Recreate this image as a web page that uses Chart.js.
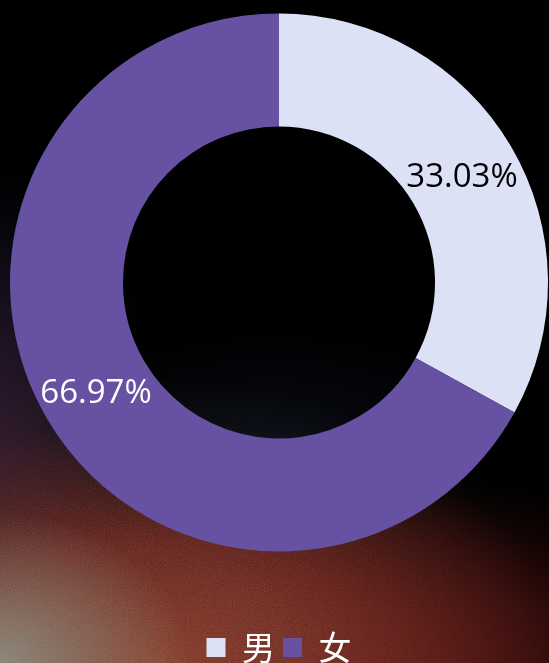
<!DOCTYPE html>
<html>
<head>
<meta charset="utf-8">
<script src="https://cdn.jsdelivr.net/npm/chart.js@4/dist/chart.umd.min.js"></script>
<style>
  html, body { margin: 0; padding: 0; overflow: hidden; background: #000; }
  #bg {
    position: absolute; left: 0; top: 0; width: 549px; height: 663px;
    background:
      radial-gradient(ellipse 190px 150px at 0% 100%, rgba(140,148,130,0.85), rgba(140,148,130,0) 100%),
      radial-gradient(ellipse 430px 240px at 28% 100%, rgba(135,52,30,0.95) 0%, rgba(112,30,20,0.8) 50%, rgba(80,18,18,0) 100%),
      radial-gradient(ellipse 620px 190px at 55% 100%, rgba(90,14,14,0.8), rgba(90,14,14,0) 100%),
      radial-gradient(ellipse 140px 240px at 0% 68%, rgba(70,26,50,0.55), rgba(70,26,50,0) 100%),
      radial-gradient(ellipse 150px 200px at 0% 55%, rgba(26,34,64,0.5), rgba(26,34,64,0) 100%),
      radial-gradient(ellipse 240px 110px at 50% 66%, rgba(18,24,40,0.45), rgba(18,24,40,0) 100%),
      #000;
  }
  #noise {
    position: absolute; left: 0; top: 0; width: 549px; height: 663px; opacity: 0.25;
    background-image: url("data:image/svg+xml;utf8,<svg xmlns='http://www.w3.org/2000/svg' width='549' height='663'><filter id='n'><feTurbulence type='fractalNoise' baseFrequency='0.95' numOctaves='2' stitchTiles='stitch'/></filter><rect width='100%' height='100%' filter='url(%23n)'/></svg>");
    -webkit-mask-image: radial-gradient(ellipse 520px 300px at 15% 100%, #000 0%, #000 40%, transparent 100%);
    mask-image: radial-gradient(ellipse 520px 300px at 15% 100%, #000 0%, #000 40%, transparent 100%);
  }
  #wrap { position: relative; width: 549px; height: 674px; }
</style>
</head>
<body>
<div id="bg"></div>
<div id="noise"></div>
<div id="wrap"><canvas id="genderChart"></canvas></div>
<script>
var labels = ['男', '女']
var values = [33.03, 66.97]
var colors = ['#dde1f6', '#6751a2']
var valueColors = ['#000000', '#ffffff']

// draws the percentage in the middle of each slice
var sliceLabels = {
    id: 'sliceLabels',
    afterDatasetsDraw: function(chart){
        var ctx = chart.ctx
        var meta = chart.getDatasetMeta(0)
        ctx.save()
        ctx.font = '33px "Open Sans", sans-serif'
        ctx.textAlign = 'center'
        ctx.textBaseline = 'middle'
        meta.data.forEach(function(arc, i){
            var p = arc.tooltipPosition()
            ctx.fillStyle = valueColors[i]
            ctx.fillText(values[i].toFixed(2) + '%', p.x, p.y + 3)
        })
        ctx.restore()
    }
}

// push the legend down into the bottom padding
var legendDown = {
    id: 'legendDown',
    afterLayout: function(chart){
        chart.legend.top += 71
        chart.legend.bottom += 71
    }
}

var ctx = document.getElementById('genderChart').getContext('2d');
var genderChart = new Chart(ctx, {
    type: 'doughnut',
    data: {
        labels: labels,
        datasets: [{
            data: values,
            backgroundColor: colors,
            borderWidth: 0
        }]
    },
    options: {
        responsive: true,
        maintainAspectRatio: false,
        animation: false,
        cutout: '58%',
        layout: {
            padding: {top: 13, left: 10, right: 1, bottom: 71}
        },
        plugins: {
            tooltip: {enabled: false},
            legend: {
                display: true,
                position: 'bottom',
                labels: {
                    color: '#ffffff',
                    boxWidth: 19,
                    boxHeight: 19,
                    padding: 8,
                    font: {size: 33, family: '"Noto Sans CJK SC", sans-serif'}
                }
            }
        }
    },
    plugins: [sliceLabels, legendDown]
});
</script>
</body>
</html>
